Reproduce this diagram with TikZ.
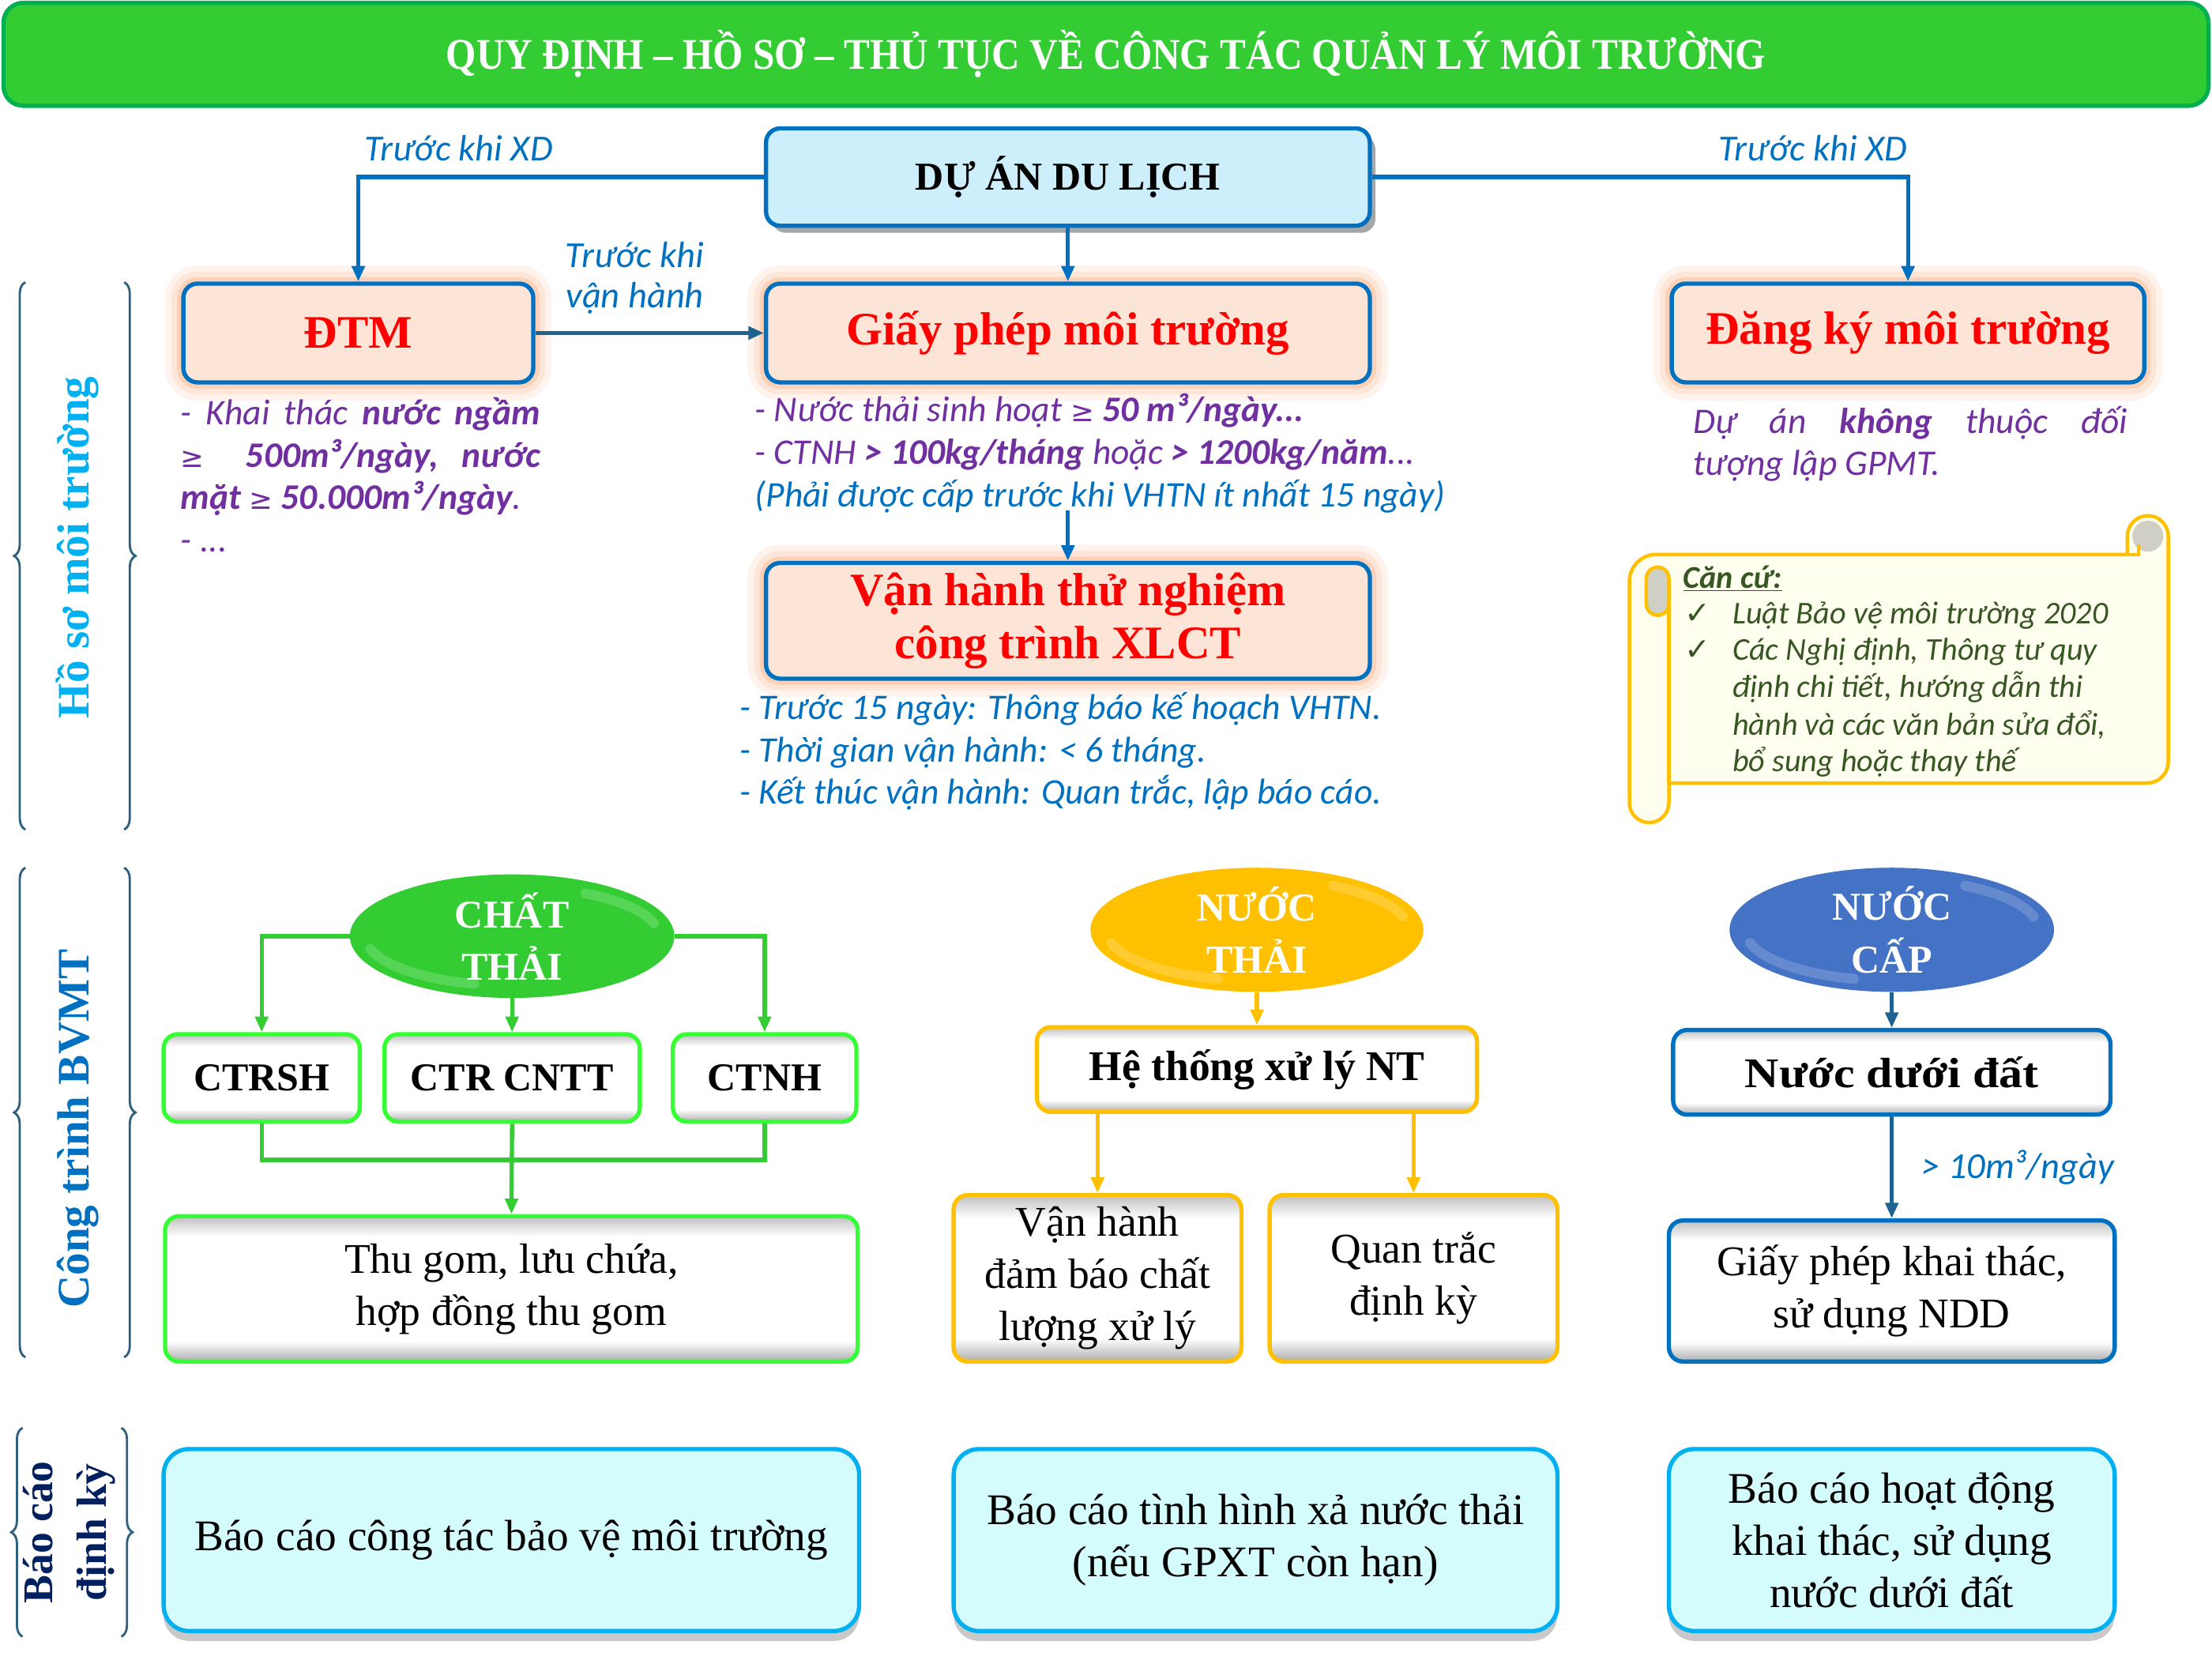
\documentclass[tikz,border=0pt]{standalone}
\usepackage{fontspec}
\usepackage{graphicx}
\setmainfont{Liberation Serif}
\newfontfamily\calfont{Carlito}
\newfontfamily\dvsfont{DejaVu Sans}
\usetikzlibrary{arrows.meta,shadows,shapes.geometric,decorations.pathreplacing}
\newcommand\fsz[2]{\fontsize{#1}{#2}\selectfont}
\newcommand\gesym{{\dvsfont\fsz{20}{20}≥}}
\newcommand\ckm{{\dvsfont\fsz{22}{22}✓}}
\definecolor{cgreen}{HTML}{33CC33}
\definecolor{cgreend}{HTML}{00B050}
\definecolor{cblue}{HTML}{0070C0}
\definecolor{cteal}{HTML}{1F6391}
\definecolor{ccyan}{HTML}{CDEFFB}
\definecolor{cpeach}{HTML}{FCE4D6}
\definecolor{corange}{HTML}{F7A36F}
\definecolor{cpurple}{HTML}{7030A0}
\definecolor{cyellow}{HTML}{FFC000}
\definecolor{cnblue}{HTML}{4472C4}
\definecolor{clime}{HTML}{33FF33}
\definecolor{crep}{HTML}{D5FCFD}
\definecolor{crepb}{HTML}{00B0F0}
\definecolor{cscroll}{HTML}{FFFFF0}
\definecolor{ccurl}{HTML}{CFCFC6}
\definecolor{cdkgreen}{HTML}{375623}
\definecolor{cbrace}{HTML}{2E6080}
\definecolor{cnavy}{HTML}{002060}
\definecolor{clbl}{HTML}{00B0F0}
\pgfdeclareverticalshading{bevelsh}{100bp}{color(0bp)=(black!32); color(25bp)=(black!32); color(32bp)=(white); color(68bp)=(white); color(75bp)=(black!25); color(100bp)=(black!25)}
\tikzset{
  box/.style={rectangle, rounded corners=10pt, line width=3pt, inner sep=0pt, align=center},
  titlebox/.style={box, rounded corners=14pt, draw=cgreend, fill=cgreen, text=white, font=\fsz{31}{36}\bfseries},
  cyanbox/.style={box, draw=cblue, fill=ccyan, font=\fsz{28}{33}\bfseries, drop shadow={shadow xshift=4pt, shadow yshift=-5pt, opacity=0.35, fill=black}},
  peach/.style={box, draw=cblue, fill=cpeach, text=red, font=\fsz{33}{37}\bfseries,
     preaction={draw=corange, line width=26pt, opacity=0.12},
     preaction={draw=corange, line width=17pt, opacity=0.18},
     preaction={draw=corange, line width=9pt, opacity=0.3}},
  bev/.style={box, shade, shading=bevelsh, font=\fsz{30}{35}\bfseries},
  plainbox/.style={box, shade, shading=bevelsh, font=\fsz{30}{37}},
  rep/.style={box, draw=crepb, fill=crep, rounded corners=18pt, font=\fsz{31}{37},
     drop shadow={shadow xshift=0pt, shadow yshift=-7pt, opacity=0.3, fill=black!70}},
  oval/.style={ellipse, inner sep=0pt, text=white, font=\fsz{28}{37}\bfseries, align=center},
  sheen/.style={white, line width=7pt, opacity=0.18, line cap=round},
  lab/.style={font=\calfont\itshape\fsz{26}{30}, text=cblue, inner sep=0pt},
  ptxt/.style={font=\calfont\itshape\fsz{25.5}{30}, text=cpurple, inner sep=0pt, anchor=base west},
  btxt/.style={font=\calfont\itshape\fsz{25.5}{30}, text=cblue, inner sep=0pt, anchor=base west},
  sctxt/.style={font=\calfont\itshape\fsz{22.5}{26}, text=cdkgreen, inner sep=0pt, anchor=base west},
  tipa/.style={-{Triangle[length=11pt,width=9pt]}},
  bl/.style={draw=cblue, line width=3pt, tipa},
  grl/.style={draw=cgreen, line width=3pt},
  gra/.style={grl, tipa},
  yel/.style={draw=cyellow, line width=3pt, tipa},
  tl/.style={draw=cteal, line width=3pt, tipa},
  brc/.style={draw=cbrace, line width=1.6pt, decorate, decoration={brace, amplitude=8pt}},
  side/.style={rotate=90, font=\fsz{32}{37}\bfseries, inner sep=0pt, align=center},
  scrollst/.style={draw=cyellow, line width=2.5pt, fill=cscroll}
}
\begin{document}
\begin{tikzpicture}[x=1pt,y=1pt]
\useasboundingbox (0,0) rectangle (1568,-1176);
% title
\node[titlebox, minimum width=1563pt, minimum height=73pt] (title) at (784,-38.5)
  {\scalebox{0.89}[1]{QUY ĐỊNH – HỒ SƠ – THỦ TỤC VỀ CÔNG TÁC QUẢN LÝ MÔI TRƯỜNG}};
% top project
\node[cyanbox, minimum width=428pt, minimum height=69pt] (duan) at (757,-125.5) {DỰ ÁN DU LỊCH};
\node[peach, minimum width=248pt, minimum height=70pt] (dtm) at (254,-236) {ĐTM};
\node[peach, minimum width=428pt, minimum height=70pt] (gpmt) at (757,-236) {Giấy phép môi trường};
\node[peach, minimum width=335pt, minimum height=70pt] (dkmt) at (1352.5,-236) {Đăng ký môi trường};
\node[peach, minimum width=428pt, minimum height=82pt] (vhtn) at (757,-440) {Vận hành thử nghiệm\\công trình XLCT};
\draw[bl] (duan.west) -| (dtm.north);
\draw[bl] (duan.east) -| (dkmt.north);
\draw[bl] (duan.south) -- (gpmt.north);
\draw[tl] (dtm.east) -- (gpmt.west);
\coordinate (gpx) at (757,-362);
\draw[bl] (gpx) -- (vhtn.north);
\node[lab, anchor=base] (lx1) at (325,-114) {Trước khi XD};
\node[lab, anchor=base] (lx2) at (1285,-114) {Trước khi XD};
\node[lab, align=center] (lvh) at (450,-197) {Trước khi\\[-1pt]vận hành};
% texts
\node[ptxt] (d1) at (128,-301) {\makebox[255pt][s]{- Khai thác \textbf{nước ngầm}}};
\node[ptxt] (d2) at (128,-331) {\makebox[255pt][s]{\gesym\ \ \textbf{500m³/ngày,} \textbf{nước}}};
\node[ptxt] (d3) at (128,-361) {\textbf{mặt} \gesym\ \textbf{50.000m³/ngày}.};
\node[ptxt] (d4) at (128,-391) {- ...};
\node[ptxt] (g1) at (535,-299) {- Nước thải sinh hoạt \gesym\ \textbf{50 m³/ngày...}};
\node[ptxt] (g2) at (535,-329) {- CTNH \textbf{> 100kg/tháng} hoặc \textbf{> 1200kg/năm}...};
\node[btxt] (g3) at (535,-359) {(Phải được cấp trước khi VHTN ít nhất 15 ngày)};
\node[btxt] (v1) at (524,-510) {- Trước 15 ngày: Thông báo kế hoạch VHTN.};
\node[btxt] (v2) at (524,-540) {- Thời gian vận hành: < 6 tháng.};
\node[btxt] (v3) at (524,-570) {- Kết thúc vận hành: Quan trắc, lập báo cáo.};
\node[ptxt] (k1) at (1200,-307) {\makebox[308pt][s]{Dự án \textbf{không} thuộc đối}};
\node[ptxt] (k2) at (1200,-337) {tượng lập GPMT.};
% scroll
\filldraw[scrollst] (1155,-569) -- (1155,-412) arc[start angle=180,end angle=90,radius=19pt]
  -- (1508,-393) -- (1508,-380) arc[start angle=180,end angle=0,radius=14.5pt]
  -- (1537,-540) arc[start angle=0,end angle=-90,radius=15pt]
  -- (1183,-555) -- (1183,-569) arc[start angle=0,end angle=-180,radius=14pt] -- cycle;
\fill[ccurl] (1522.5,-380) circle (11pt);
\draw[cyellow, line width=2.5pt] (1508,-393) -- (1516,-393) -- (1516,-386);
\filldraw[draw=cyellow, line width=2.5pt, fill=ccurl] (1183,-410) arc[start angle=0,end angle=180,radius=8pt]
  -- (1167,-428) arc[start angle=180,end angle=360,radius=8pt] -- cycle;
\draw[cyellow, line width=2.5pt] (1183,-428) -- (1183,-555);
\node[sctxt] (c0) at (1193,-417) {\textbf{\underline{Căn cứ:}}};
\node[sctxt] (c1m) at (1194,-442) {\ckm};
\node[sctxt] (c1) at (1228,-442) {Luật Bảo vệ môi trường 2020};
\node[sctxt] (c2m) at (1194,-468) {\ckm};
\node[sctxt] (c2) at (1228,-468) {Các Nghị định, Thông tư quy};
\node[sctxt] (c3) at (1228,-494) {định chi tiết, hướng dẫn thi};
\node[sctxt] (c4) at (1228,-521) {hành và các văn bản sửa đổi,};
\node[sctxt] (c5) at (1228,-547) {bổ sung hoặc thay thế};
% braces and side labels
\draw[brc] (18,-588) -- (18,-200);
\draw[brc] (88,-200) -- (88,-588);
\draw[brc] (18,-962) -- (18,-615);
\draw[brc] (88,-615) -- (88,-962);
\draw[brc] (16,-1160) -- (16,-1012);
\draw[brc] (86,-1012) -- (86,-1160);
\node[side, text=clbl] (s1) at (55,-388) {Hồ sơ môi trường};
\node[side, text=cblue] (s2) at (55,-800) {Công trình BVMT};
\node[side, text=cnavy, font=\fsz{30}{38}\bfseries] (s3) at (49,-1086) {Báo cáo\\định kỳ};
% chat thai
\node[oval, fill=cgreen, minimum width=230pt, minimum height=87pt] (chat) at (363,-663.5) {CHẤT\\THẢI};
\draw[sheen] ([shift={(chat.center)}]195:104pt and 35pt) arc[start angle=195,end angle=255,x radius=104pt,y radius=35pt];
\draw[sheen] ([shift={(chat.center)}]15:104pt and 35pt) arc[start angle=15,end angle=60,x radius=104pt,y radius=35pt];
\node[bev, draw=clime, minimum width=139pt, minimum height=62pt, font=\fsz{28}{33}\bfseries] (ctrsh) at (185.5,-764) {CTRSH};
\node[bev, draw=clime, minimum width=181pt, minimum height=62pt, font=\fsz{28}{33}\bfseries] (ctrcntt) at (363,-764) {CTR CNTT};
\node[bev, draw=clime, minimum width=130pt, minimum height=62pt, font=\fsz{28}{33}\bfseries] (ctnh) at (542,-764) {CTNH};
\node[plainbox, draw=clime, minimum width=491pt, minimum height=103pt] (thugom) at (362.5,-913.5) {Thu gom, lưu chứa,\\hợp đồng thu gom};
\draw[gra] (chat.west) -| (ctrsh.north);
\draw[gra] (chat.east) -| (ctnh.north);
\draw[gra] (chat.south) -- (ctrcntt.north);
\coordinate (jn) at (363,-822);
\draw[grl] (ctrsh.south) |- (jn) -| (ctnh.south);
\draw[gra] (ctrcntt.south) -- (thugom.north);
% nuoc thai
\node[oval, fill=cyellow, minimum width=236pt, minimum height=88pt] (nthai) at (891,-659) {NƯỚC\\THẢI};
\draw[sheen] ([shift={(nthai.center)}]195:107pt and 36pt) arc[start angle=195,end angle=255,x radius=107pt,y radius=36pt];
\draw[sheen] ([shift={(nthai.center)}]15:107pt and 36pt) arc[start angle=15,end angle=60,x radius=107pt,y radius=36pt];
\node[bev, draw=cyellow, minimum width=312pt, minimum height=60pt] (hethong) at (891,-758) {Hệ thống xử lý NT};
\node[plainbox, draw=cyellow, minimum width=204pt, minimum height=118pt] (vanh) at (778,-906) {Vận hành\\đảm báo chất\\lượng xử lý};
\node[plainbox, draw=cyellow, minimum width=204pt, minimum height=118pt] (qtrac) at (1002,-906) {Quan trắc\\định kỳ};
\draw[yel] (nthai.south) -- (hethong.north);
\draw[yel] (vanh.north |- hethong.south) -- (vanh.north);
\draw[yel] (qtrac.north |- hethong.south) -- (qtrac.north);
% nuoc cap
\node[oval, fill=cnblue, minimum width=230pt, minimum height=88pt] (ncap) at (1341,-659) {NƯỚC\\CẤP};
\draw[sheen] ([shift={(ncap.center)}]195:104pt and 36pt) arc[start angle=195,end angle=255,x radius=104pt,y radius=36pt];
\draw[sheen] ([shift={(ncap.center)}]15:104pt and 36pt) arc[start angle=15,end angle=60,x radius=104pt,y radius=36pt];
\node[bev, draw=cblue, minimum width=310pt, minimum height=60pt] (ndd) at (1341,-760) {\scalebox{1.12}[1]{Nước dưới đất}};
\node[plainbox, draw=cblue, minimum width=316pt, minimum height=100pt] (gpkt) at (1341,-915) {Giấy phép khai thác,\\sử dụng NDD};
\draw[tl] (ncap.south) -- (ndd.north);
\draw[tl] (ndd.south) -- (gpkt.north);
\node[lab, anchor=base west] (l10) at (1362,-835) {> 10m³/ngày};
% reports
\node[rep, minimum width=493pt, minimum height=129pt] (r1) at (362.5,-1091.5) {Báo cáo công tác bảo vệ môi trường};
\node[rep, minimum width=428pt, minimum height=129pt] (r2) at (890,-1091.5) {Báo cáo tình hình xả nước thải\\(nếu GPXT còn hạn)};
\node[rep, minimum width=316pt, minimum height=129pt] (r3) at (1341,-1091.5) {Báo cáo hoạt động\\khai thác, sử dụng\\nước dưới đất};
\end{tikzpicture}
\end{document}
